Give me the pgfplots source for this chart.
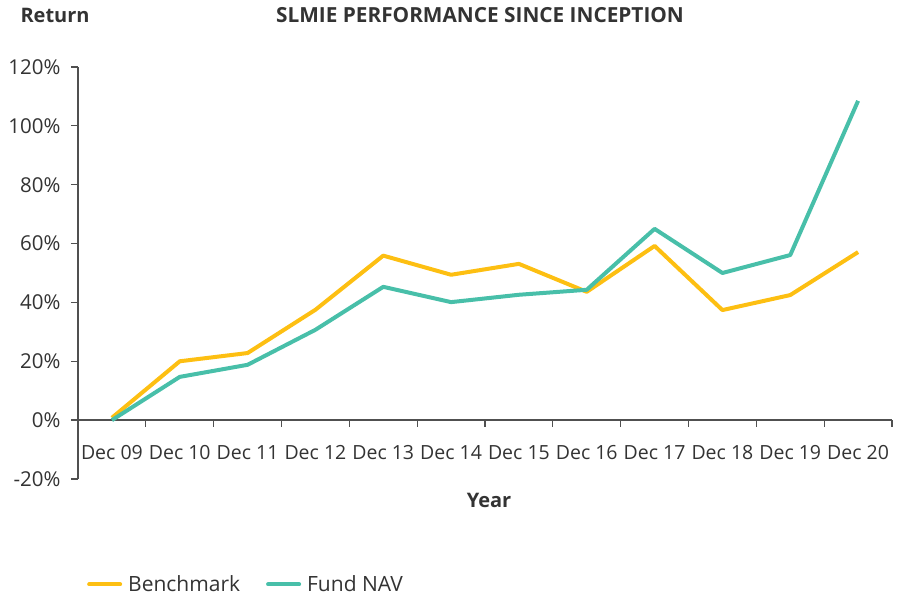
\documentclass[border=0pt]{standalone}
\usepackage{fontspec}
\setmainfont{Open Sans}
\usepackage{pgfplots}
\pgfplotsset{compat=1.18}
\definecolor{bench}{HTML}{FDBF12}
\definecolor{fund}{HTML}{48BFA9}
\definecolor{txt}{HTML}{333333}
\definecolor{axl}{HTML}{505050}

\begin{document}
\fontsize{19}{23}\selectfont
\begin{tikzpicture}[x=1pt,y=1pt]
\useasboundingbox (0,0) rectangle (899,596);
\begin{axis}[
    at={(78pt,117pt)}, anchor=south west,
    scale only axis, width=814pt, height=412pt,
    xmin=0, xmax=12, ymin=-20, ymax=120,
    axis y line=left, axis x line=middle,
    axis line style={-, draw=axl, line width=1.3pt},
    hide obscured x ticks=false, hide obscured y ticks=false,
    ytick={-20,0,...,120},
    yticklabel={\pgfmathprintnumber[assume math mode=true]{\tick}\%},
    ytick align=outside, major tick length=7pt,
    y tick style={draw=axl, line width=1.3pt},
    y tick label style={font=\fontsize{20.5}{24}\selectfont, text=txt, xshift=-4pt},
    xtick={0.5,1.5,...,11.5},
    xticklabels={Dec 09,Dec 10,Dec 11,Dec 12,Dec 13,Dec 14,Dec 15,Dec 16,Dec 17,Dec 18,Dec 19,Dec 20},
    x tick style={draw=none},
    x tick label style={font=\fontsize{19.5}{23}\selectfont, text=txt, yshift=-15pt},
    clip=false,
    legend style={at={(0.011,-0.256)}, anchor=west, draw=none, fill=none,
        inner sep=0pt, font=\fontsize{21}{25}\selectfont, text=txt,
        nodes={inner ysep=0pt, inner xsep=6pt},
        legend columns=2, /tikz/every even column/.append style={column sep=20pt}},
    legend image code/.code={\draw[#1, line width=4pt, line cap=round] (0pt,0pt) -- (31pt,0pt);},
]
\addplot[bench, line width=4pt, line join=round] coordinates {
(0.5,0.8) (1.5,20.0) (2.5,22.8) (3.5,37.5) (4.5,55.9) (5.5,49.4)
(6.5,53.1) (7.5,43.6) (8.5,59.2) (9.5,37.4) (10.5,42.5) (11.5,57.1)};
\addlegendentry{Benchmark}
\addplot[fund, line width=4pt, line join=round] coordinates {
(0.5,0.0) (1.5,14.7) (2.5,18.8) (3.5,30.7) (4.5,45.3) (5.5,40.1)
(6.5,42.6) (7.5,44.3) (8.5,65.0) (9.5,50.0) (10.5,56.1) (11.5,108.5)};
\addlegendentry{Fund NAV}
\pgfplotsinvokeforeach{1,...,12}{\draw[axl, line width=1.3pt] (axis cs:#1,0) -- ([yshift=-7pt]axis cs:#1,0);}
\end{axis}
\node[anchor=west, font=\fontsize{20}{24}\selectfont\bfseries, text=txt] at (14,581) {Return};
\node[font=\fontsize{20.8}{24}\selectfont\bfseries, text=txt] at (480,581) {SLMIE PERFORMANCE SINCE INCEPTION};
\node[font=\fontsize{20}{24}\selectfont\bfseries, text=txt] at (489,96) {Year};
\end{tikzpicture}
\end{document}
